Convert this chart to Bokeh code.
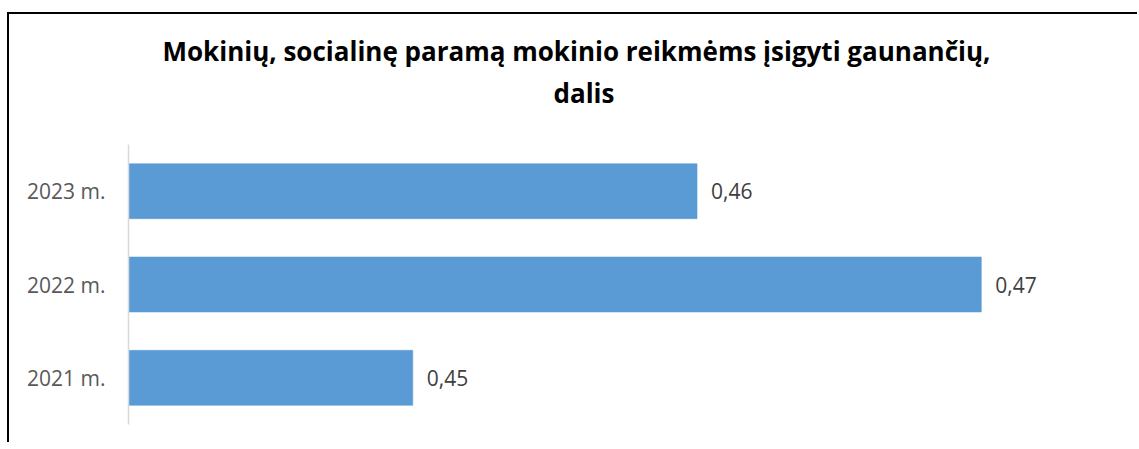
from bokeh.plotting import figure
from bokeh.models import ColumnDataSource, Range1d, FactorRange, LabelSet, Title
from bokeh.core.properties import value
from bokeh.embed import file_html
from bokeh.resources import INLINE

# ---- data ----
categories = ["2021 m.", "2022 m.", "2023 m."]
values = [0.45, 0.47, 0.46]
labels = ["0,45", "0,47", "0,46"]
title_line1 = "Mokinių, socialinę paramą mokinio reikmėms įsigyti gaunančių,"
title_line2 = "dalis"

FONT = "Open Sans"

src = ColumnDataSource(dict(cat=categories, val=values, lbl=labels))

p = figure(
    width=1130, height=430,
    y_range=FactorRange(factors=categories),
    x_range=Range1d(0.44, 0.475),
    x_axis_location=None,
    output_backend="svg", toolbar_location=None,
    min_border_left=119, min_border_right=16, min_border_top=130, min_border_bottom=20,
    title=None,
)
# chart frame border (left and top edges visible in the window)
p.styles = {"border-left": "2px solid #000", "border-top": "2px solid #000",
            "margin-top": "12px", "margin-left": "7px"}

p.hbar(y="cat", left=0.44, right="val", height=0.59, source=src,
       fill_color="#5B9BD5", line_color="#5B9BD5", line_width=0.5)

p.add_layout(LabelSet(x="val", y="cat", text="lbl", source=src, x_offset=14,
                      text_baseline="middle", text_align="left",
                      text_font=value(FONT), text_font_size="21px", text_color="#404040"))

t2 = Title(text=title_line2, align="left", offset=425, text_font=FONT,
           text_font_size="26px", text_font_style="bold", text_color="#000000", standoff=68)
t1 = Title(text=title_line1, align="left", offset=34, text_font=FONT,
           text_font_size="26px", text_font_style="bold", text_color="#000000", standoff=-61)
p.add_layout(t2, "above")
p.add_layout(t1, "above")

p.xgrid.grid_line_color = None
p.ygrid.grid_line_color = None
p.outline_line_color = None

ax = p.yaxis[0]
ax.axis_line_color = "#D9D9D9"
ax.axis_line_width = 1.5
ax.major_tick_line_color = None
ax.minor_tick_line_color = None
ax.major_label_standoff = 17
ax.major_label_text_font = FONT
ax.major_label_text_font_size = "21px"
ax.major_label_text_color = "#595959"

open("out.html", "w").write(file_html(p, INLINE))
